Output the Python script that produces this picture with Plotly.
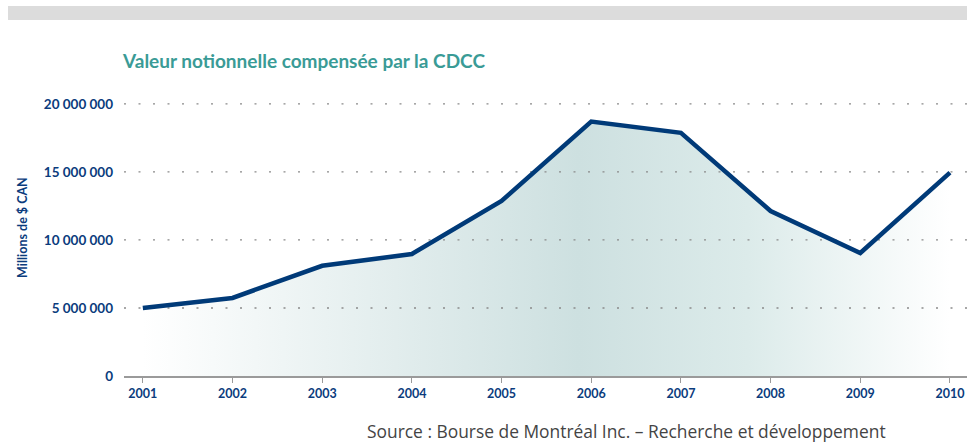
import plotly.graph_objects as go

years = [2001, 2002, 2003, 2004, 2005, 2006, 2007, 2008, 2009, 2010]
values = [5.0e6, 5.74e6, 8.1e6, 8.97e6, 12.87e6, 18.7e6, 17.88e6, 12.13e6, 9.04e6, 14.95e6]
ytick_vals = [0, 5e6, 10e6, 15e6, 20e6]
ytick_text = ["0", "5 000 000", "10 000 000", "15 000 000", "20 000 000"]
title = "Valeur notionnelle compensée par la CDCC"
ytitle = "Millions de $ CAN"
source = "Source : Bourse de Montréal Inc. – Recherche et développement"

W, H = 967, 442
L, R, T, B = 124, 0, 100, 66
pw, ph = W - L - R, H - T - B
XRANGE = [2000.79, 2010.19]

def px(x):  # page x -> paper
    return (x - L) / pw

def py(y):  # page y -> paper
    return (H - B - y) / ph

navy = "#0b3c7d"
fig = go.Figure()
# gradient area
fig.add_trace(go.Scatter(
    x=years, y=values, mode="lines",
    line=dict(color="rgba(0,0,0,0)", width=0),
    fill="tozeroy",
    fillgradient=dict(type="horizontal", colorscale=[
        [0.0, "rgba(255,255,255,1)"],
        [0.54, "#cde0e0"],
        [0.75, "#dcebea"],
        [1.0, "rgba(255,255,255,1)"],
    ]),
    hoverinfo="skip", showlegend=False,
))
# dotted gridlines drawn over the area
for v in ytick_vals[1:]:
    fig.add_trace(go.Scatter(
        x=XRANGE, y=[v, v], mode="lines",
        line=dict(color="#8a8a8a", width=1.3, dash="2px,12.5px"),
        hoverinfo="skip", showlegend=False, cliponaxis=False,
    ))
# main line
fig.add_trace(go.Scatter(
    x=years, y=values, mode="lines",
    line=dict(color="#003a78", width=4.5),
    hoverinfo="x+y", showlegend=False,
))

fig.update_layout(
    width=W, height=H,
    margin=dict(l=L, r=R, t=T, b=B),
    paper_bgcolor="white", plot_bgcolor="white",
    font=dict(family="Lato", color=navy),
    xaxis=dict(
        range=XRANGE,
        tickvals=years, ticktext=[str(y) for y in years],
        showgrid=False, zeroline=False,
        showline=True, linecolor="#9a9a9a", linewidth=1.5,
        ticks="outside", ticklen=5, tickcolor="#9a9a9a",
        tickfont=dict(family="Lato", size=12.5, color=navy, weight="bold"),
    ),
    yaxis=dict(
        range=[0, 20.29e6],
        tickvals=ytick_vals, ticktext=ytick_text,
        showgrid=False, zeroline=False, showline=False, ticks="",
        ticklabelstandoff=10,
        tickfont=dict(family="Lato", size=13.5, color=navy, weight="bold"),
    ),
    shapes=[dict(type="rect", xref="paper", yref="paper",
                 x0=px(8), x1=1.0, y0=py(20), y1=py(6),
                 fillcolor="#dcdcdc", line=dict(width=0), layer="below")],
    annotations=[
        dict(text=title, xref="paper", yref="paper", x=px(120), y=py(60),
             xanchor="left", yanchor="middle", showarrow=False,
             font=dict(family="Lato", size=19, color="#3a9b96", weight="bold")),
        dict(text=ytitle, xref="paper", yref="paper", x=px(22), y=py(228),
             xanchor="center", yanchor="middle", showarrow=False, textangle=-90,
             font=dict(family="Lato", size=12.5, color=navy, weight="bold")),
        dict(text=source, xref="paper", yref="paper", x=px(365), y=py(431),
             xanchor="left", yanchor="middle", showarrow=False,
             font=dict(family="Open Sans", size=17.4, color="#444444")),
    ],
)
fig.write_html(
    "out.html",
    config={"displayModeBar": False},
    post_script="document.body.style.margin='0';document.body.style.overflow='hidden';",
)
